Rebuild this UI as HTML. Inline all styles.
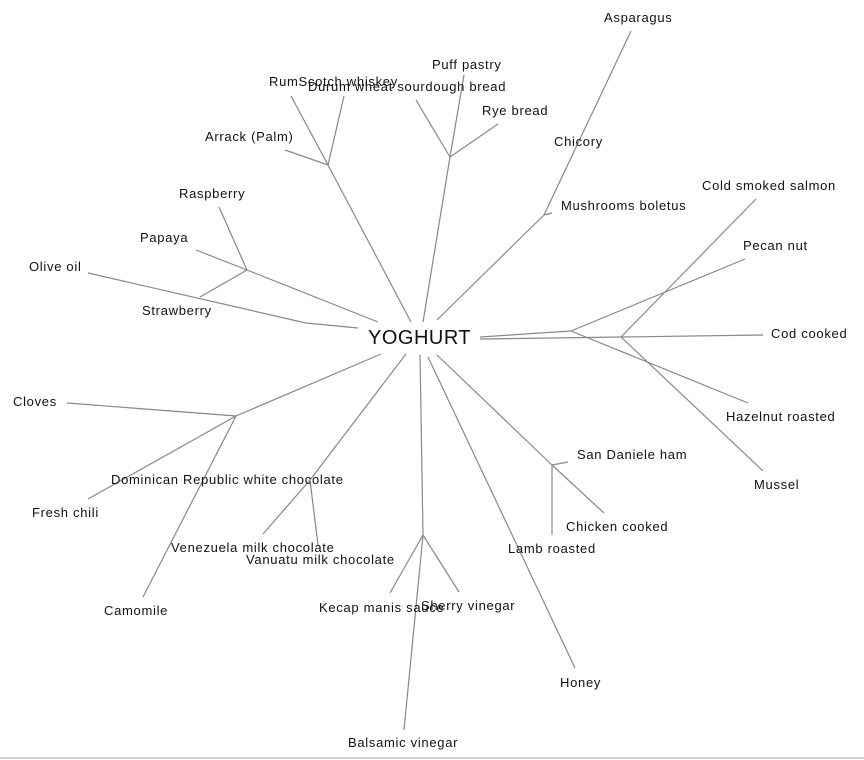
<!DOCTYPE html>
<html><head><meta charset="utf-8"><style>
html,body{margin:0;padding:0;background:#fff;}
svg{display:block;}
text{font-family:"Liberation Sans",sans-serif;font-size:13px;fill:#111;letter-spacing:0.7px;}
line,polyline{stroke:#888;stroke-width:1.2;fill:none;}
</style></head><body>
<svg width="864" height="760" viewBox="0 0 864 760">
<polyline points="88,273 306,323 358,328"/>
<line x1="378" y1="322" x2="247" y2="270"/>
<line x1="219" y1="207" x2="247" y2="270"/>
<line x1="196" y1="250" x2="247" y2="270"/>
<line x1="200" y1="297" x2="247" y2="270"/>
<line x1="411" y1="322" x2="328" y2="165"/>
<line x1="291" y1="96" x2="328" y2="165"/>
<line x1="344" y1="96" x2="328" y2="165"/>
<line x1="285" y1="150" x2="328" y2="165"/>
<line x1="423" y1="322" x2="450" y2="157"/>
<line x1="464" y1="75" x2="450" y2="157"/>
<line x1="416" y1="100" x2="450" y2="157"/>
<line x1="498" y1="124" x2="450" y2="157"/>
<line x1="437" y1="320" x2="544" y2="215"/>
<line x1="631" y1="31" x2="544" y2="215"/>
<line x1="544" y1="215" x2="552" y2="213"/>
<line x1="480" y1="337" x2="571" y2="331"/>
<line x1="480" y1="339" x2="621" y2="337"/>
<line x1="571" y1="331" x2="745" y2="259"/>
<line x1="571" y1="331" x2="748" y2="403"/>
<line x1="621" y1="337" x2="756" y2="199"/>
<line x1="621" y1="337" x2="763" y2="335"/>
<line x1="621" y1="337" x2="763" y2="471"/>
<line x1="437" y1="355" x2="552" y2="465"/>
<line x1="552" y1="465" x2="568" y2="462"/>
<line x1="552" y1="465" x2="604" y2="513"/>
<line x1="552" y1="465" x2="552" y2="535"/>
<line x1="428" y1="357" x2="575" y2="668"/>
<line x1="420" y1="355" x2="423" y2="535"/>
<line x1="423" y1="535" x2="404" y2="730"/>
<line x1="423" y1="535" x2="390" y2="593"/>
<line x1="423" y1="535" x2="459" y2="592"/>
<line x1="406" y1="354" x2="310" y2="480"/>
<line x1="310" y1="480" x2="263" y2="534"/>
<line x1="310" y1="480" x2="318" y2="545"/>
<line x1="381" y1="354" x2="236" y2="416"/>
<line x1="236" y1="416" x2="67" y2="403"/>
<line x1="236" y1="416" x2="88" y2="499"/>
<line x1="236" y1="416" x2="143" y2="597"/>
<line x1="0" y1="758" x2="864" y2="758" style="stroke:#bbb"/>
<text x="368" y="344" style="font-size:20px;letter-spacing:0.5px">YOGHURT</text>
<text x="604" y="22">Asparagus</text>
<text x="432" y="69">Puff pastry</text>
<text x="269" y="86">RumScotch whiskey</text>
<text x="308" y="91">Durum wheat sourdough bread</text>
<text x="482" y="115">Rye bread</text>
<text x="205" y="141">Arrack (Palm)</text>
<text x="554" y="146">Chicory</text>
<text x="179" y="198">Raspberry</text>
<text x="702" y="190">Cold smoked salmon</text>
<text x="561" y="210">Mushrooms boletus</text>
<text x="140" y="242">Papaya</text>
<text x="743" y="250">Pecan nut</text>
<text x="29" y="271">Olive oil</text>
<text x="142" y="315">Strawberry</text>
<text x="771" y="338">Cod cooked</text>
<text x="13" y="406">Cloves</text>
<text x="726" y="421">Hazelnut roasted</text>
<text x="577" y="459">San Daniele ham</text>
<text x="111" y="484">Dominican Republic white chocolate</text>
<text x="754" y="489">Mussel</text>
<text x="32" y="517">Fresh chili</text>
<text x="566" y="531">Chicken cooked</text>
<text x="171" y="552">Venezuela milk chocolate</text>
<text x="508" y="553">Lamb roasted</text>
<text x="246" y="564">Vanuatu milk chocolate</text>
<text x="319" y="612">Kecap manis sauce</text>
<text x="421" y="610">Sherry vinegar</text>
<text x="104" y="615">Camomile</text>
<text x="560" y="687">Honey</text>
<text x="348" y="747">Balsamic vinegar</text>
</svg>
</body></html>
